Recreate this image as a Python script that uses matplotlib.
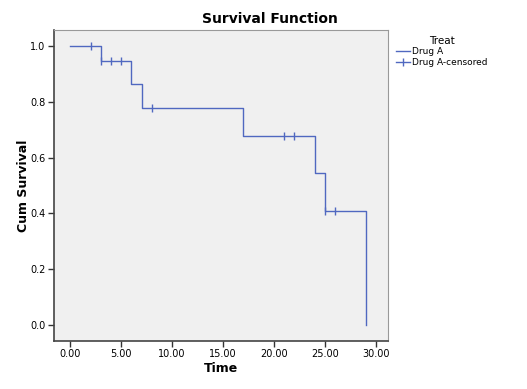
import numpy as np
import matplotlib
matplotlib.use("Agg")
import matplotlib.pyplot as plt
from matplotlib.lines import Line2D

# Kaplan-Meier step values
step_time = [0, 3, 6, 7, 17, 24, 25, 29]
step_surv = [1.0, 0.947, 0.862, 0.776, 0.678, 0.543, 0.407, 0.0]

# censored observations
cens_time = [2, 3, 4, 5, 8, 21, 22, 25, 26]

xticks = [0, 5, 10, 15, 20, 25, 30]
yticks = [0.0, 0.2, 0.4, 0.6, 0.8, 1.0]

blue = "#5068c0"

fig = plt.figure(figsize=(5.27, 3.89), dpi=100)
ax = fig.add_axes([54 / 527, 1 - 341 / 389, (388 - 54) / 527, (341 - 30) / 389])
ax.set_facecolor("#f0f0f0")

ax.step(step_time, step_surv, where="post", color=blue, lw=1.0)

# censored ticks on the current survival level
cy = [step_surv[np.searchsorted(step_time, t, side="right") - 1] for t in cens_time]
ax.plot(cens_time, cy, ls="none", marker="|", ms=6, mew=1.0, color=blue)

ax.set_xlim(-1.6, 31.2)
ax.set_ylim(-0.057, 1.057)
ax.set_xticks(xticks)
ax.set_xticklabels([f"{t:.2f}" for t in xticks], fontsize=7)
ax.set_yticks(yticks)
ax.set_yticklabels([f"{t:.1f}" for t in yticks], fontsize=7)
ax.tick_params(length=4, width=1, color="#333333", pad=2)
for s in ["left", "bottom"]:
    ax.spines[s].set_color("#444444")
    ax.spines[s].set_linewidth(1.2)
for s in ["top", "right"]:
    ax.spines[s].set_color("#999999")
    ax.spines[s].set_linewidth(0.8)

ax.set_xlabel("Time", fontsize=9, fontweight="bold", labelpad=2)
ax.set_ylabel("Cum Survival", fontsize=9, fontweight="bold", labelpad=0)
fig.text(270 / 527, 1 - 19 / 389, "Survival Function", ha="center", va="center",
         fontsize=10, fontweight="bold")

handles = [Line2D([], [], color=blue, lw=1.0, drawstyle="steps-post"),
           Line2D([], [], color=blue, lw=1.0, marker="|", ms=6)]
leg = fig.legend(handles, ["Drug A", "Drug A-censored"], title="Treat",
                 loc="upper left", bbox_to_anchor=(392 / 527, 1 - 32 / 389),
                 frameon=False, fontsize=6.5, title_fontsize=7.5,
                 handlelength=1.6, handletextpad=0.2, labelspacing=0.2,
                 borderaxespad=0)

fig.savefig("out.png", dpi=100)
